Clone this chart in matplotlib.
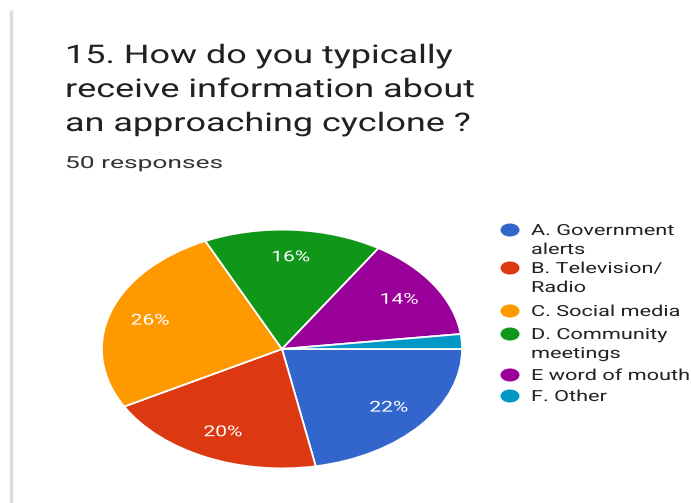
import matplotlib
matplotlib.use("Agg")
import matplotlib.pyplot as plt
import matplotlib.patheffects as pe
from matplotlib.patches import Ellipse
from matplotlib.transforms import Affine2D

# survey answers, in the order they appear in the legend
labels = ["A. Government\nalerts", "B. Television/\nRadio", "C. Social media",
          "D. Community\nmeetings", "E word of mouth", "F. Other"]
shares = [22, 20, 26, 16, 14, 2]
colors = ["#3366cc", "#dc3912", "#ff9900", "#109618", "#990099", "#0099c6"]

title = "15. How do you typically\nreceive information about\nan approaching cyclone ?"
subtitle = "50 responses"

plt.rcParams["font.family"] = ["Roboto", "DejaVu Sans"]

W, H = 691, 503


class Widen(pe.AbstractPathEffect):
    """Stretch glyphs sideways around a fixed display x."""

    def __init__(self, sx, x0):
        super().__init__()
        self.sx = sx
        self.x0 = x0

    def draw_path(self, renderer, gc, tpath, affine, rgbFace=None):
        t = affine + Affine2D().translate(-self.x0, 0).scale(self.sx, 1).translate(self.x0, 0)
        renderer.draw_path(gc, tpath, t, rgbFace)


fig = plt.figure(figsize=(W / 100, H / 100), dpi=100)
fig.patch.set_facecolor("white")

# overlay in pixel coordinates for the text, the legend and the border line
lax = fig.add_axes([0, 0, 1, 1])
lax.set_xlim(0, W)
lax.set_ylim(H, 0)
lax.axis("off")
lax.plot([11, 11], [10, H], color="#dcdcdc", lw=2.5, solid_capstyle="butt")

for i, line in enumerate(title.split("\n")):
    lax.text(65, 63 + i * 34, line, fontsize=18.5, color="#212121", va="baseline",
             path_effects=[Widen(1.40, 65)])
lax.text(65, 168, subtitle, fontsize=12, color="#333333", va="baseline",
         path_effects=[Widen(1.58, 65)])

# legend, first line of each entry next to its dot
entry_y = [230, 268, 311, 334, 375, 396]
for lab, col, y in zip(labels, colors, entry_y):
    lax.add_patch(Ellipse((510, y), 19, 13, color=col, lw=0))
    for j, part in enumerate(lab.split("\n")):
        lax.text(531, y + 5 + j * 19, part, fontsize=11, color="#222222",
                 va="baseline", path_effects=[Widen(1.42, 531)])

# pie drawn in a stretched box, so it comes out as an ellipse
left, right, top, bottom = 101, 463, 229, 469
pax = fig.add_axes([left / W, 1 - bottom / H, (right - left) / W, (bottom - top) / H])


def pct_label(p):
    return f"{p:.0f}%" if p >= 5 else ""


wedges, texts, autotexts = pax.pie(
    shares, colors=colors, startangle=0, counterclock=False, radius=1,
    autopct=pct_label, pctdistance=0.77,
    wedgeprops=dict(edgecolor="white", linewidth=1.3),
    textprops=dict(color="white", fontsize=10.8))
pax.set_aspect("auto")
pax.set_xlim(-1.005, 1.005)
pax.set_ylim(-1.005, 1.005)
pax.axis("off")

for t in autotexts:
    cx = pax.transData.transform(t.get_position())[0]
    t.set_path_effects([Widen(1.4, cx)])

fig.savefig("out.png", dpi=100, facecolor="white")
